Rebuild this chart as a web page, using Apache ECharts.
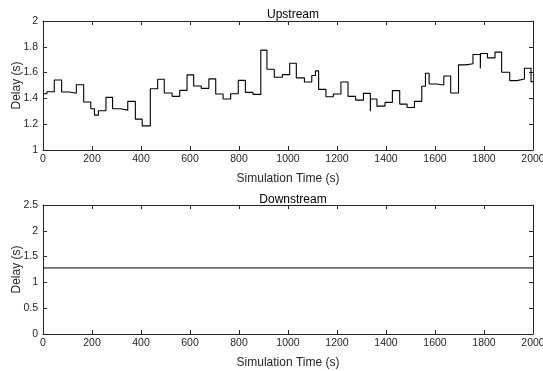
<!DOCTYPE html>
<html>
<head>
<meta charset="utf-8">
<script src="https://cdn.jsdelivr.net/npm/echarts@6/dist/echarts.min.js"></script>
<style>
  html, body { margin: 0; padding: 0; background: #fff; }
  #chart { width: 543px; height: 371px; }
</style>
</head>
<body>
<div id="chart"></div>
<script>
// Upstream delay: each value holds from its time until the next time
const upTimes = [0, 16, 46, 76, 108, 136, 166, 195, 210, 226,
  257, 284, 316, 346, 377, 405, 438, 468, 495, 527,
  558, 588, 615, 646, 677, 705, 735, 766, 797, 826,
  857, 889, 914, 944, 977, 1007, 1034, 1067, 1097, 1112,
  1125, 1155, 1185, 1216, 1245, 1276, 1308, 1336, 1337, 1363,
  1396, 1426, 1456, 1486, 1516, 1546, 1561, 1576, 1606, 1636,
  1664, 1696, 1726, 1755, 1785, 1786, 1814, 1845, 1872, 1905,
  1935, 1965, 1992, 2000];
const upDelay = [1.436, 1.452, 1.543, 1.45, 1.44, 1.506, 1.372, 1.32, 1.27, 1.304,
  1.408, 1.32, 1.309, 1.377, 1.239, 1.187, 1.475, 1.548, 1.442, 1.416,
  1.462, 1.582, 1.496, 1.478, 1.551, 1.434, 1.395, 1.436, 1.54, 1.447,
  1.431, 1.774, 1.626, 1.564, 1.584, 1.673, 1.559, 1.527, 1.577, 1.613,
  1.47, 1.413, 1.434, 1.527, 1.416, 1.387, 1.439, 1.30, 1.395, 1.34,
  1.369, 1.46, 1.356, 1.33, 1.377, 1.494, 1.595, 1.512, 1.504, 1.574,
  1.442, 1.66, 1.668, 1.74, 1.631, 1.748, 1.714, 1.759, 1.603, 1.538,
  1.551, 1.634, 1.53, 1.53];

// Downstream delay is constant
const downTimes = [0, 2000];
const downDelay = [1.28, 1.28];

const xTicks = [0, 200, 400, 600, 800, 1000, 1200, 1400, 1600, 1800, 2000];
const upYRange = [1, 2, 0.2];
const downYRange = [0, 2.5, 0.5];

const axisColor = '#262626';
const fontFamily = '"Liberation Sans", Arial, Helvetica, sans-serif';

function pairs(xs, ys) { return xs.map((x, i) => [x, ys[i]]); }

function xAxisFor(gridIndex, position, withLabels) {
  return {
    type: 'value', gridIndex, position,
    min: xTicks[0], max: xTicks[xTicks.length - 1],
    interval: xTicks[1] - xTicks[0],
    name: withLabels ? 'Simulation Time (s)' : '',
    nameLocation: 'middle', nameGap: 23, nameMoveOverlap: false,
    nameTextStyle: { color: axisColor, fontSize: 12, fontFamily },
    axisLine: { show: true, onZero: false, lineStyle: { color: axisColor, width: 1 } },
    axisTick: { show: true, inside: true, length: 4, lineStyle: { color: axisColor } },
    axisLabel: { show: withLabels, color: axisColor, fontSize: 10.5, fontFamily, margin: 4,
      formatter: v => String(v) },
    splitLine: { show: false }
  };
}

function yAxisFor(gridIndex, position, range, withLabels) {
  return {
    type: 'value', gridIndex, position,
    min: range[0], max: range[1], interval: range[2],
    name: withLabels ? 'Delay (s)' : '',
    nameLocation: 'middle', nameGap: 20, nameRotate: 90, nameMoveOverlap: false,
    nameTextStyle: { color: axisColor, fontSize: 12, fontFamily },
    axisLine: { show: true, onZero: false, lineStyle: { color: axisColor, width: 1 } },
    axisTick: { show: true, inside: true, length: 4, lineStyle: { color: axisColor } },
    axisLabel: { show: withLabels, color: axisColor, fontSize: 10.5, fontFamily, margin: 5,
      formatter: v => String(v) },
    splitLine: { show: false }
  };
}

const chart = echarts.init(document.getElementById('chart'), null, { renderer: 'canvas' });
chart.setOption({
  animation: false,
  backgroundColor: '#ffffff',
  title: [
    { text: 'Upstream', left: 288, top: 4, textAlign: 'center',
      textStyle: { fontSize: 12, fontWeight: 'normal', color: '#000', fontFamily } },
    { text: 'Downstream', left: 288, top: 189, textAlign: 'center',
      textStyle: { fontSize: 12, fontWeight: 'normal', color: '#000', fontFamily } }
  ],
  grid: [
    { left: 43, right: 10, top: 21, height: 129, containLabel: false, outerBoundsMode: 'none' },
    { left: 43, right: 10, top: 205, height: 129, containLabel: false, outerBoundsMode: 'none' }
  ],
  xAxis: [
    xAxisFor(0, 'bottom', true),
    xAxisFor(1, 'bottom', true),
    xAxisFor(0, 'top', false),
    xAxisFor(1, 'top', false)
  ],
  yAxis: [
    yAxisFor(0, 'left', upYRange, true),
    yAxisFor(1, 'left', downYRange, true),
    yAxisFor(0, 'right', upYRange, false),
    yAxisFor(1, 'right', downYRange, false)
  ],
  series: [
    { name: 'Upstream', type: 'line', xAxisIndex: 0, yAxisIndex: 0,
      step: 'end', showSymbol: false, data: pairs(upTimes, upDelay),
      lineStyle: { color: '#000', width: 1.1 } },
    { name: 'Downstream', type: 'line', xAxisIndex: 1, yAxisIndex: 1,
      showSymbol: false, data: pairs(downTimes, downDelay),
      lineStyle: { color: '#000', width: 1 } }
  ]
});
</script>
</body>
</html>
